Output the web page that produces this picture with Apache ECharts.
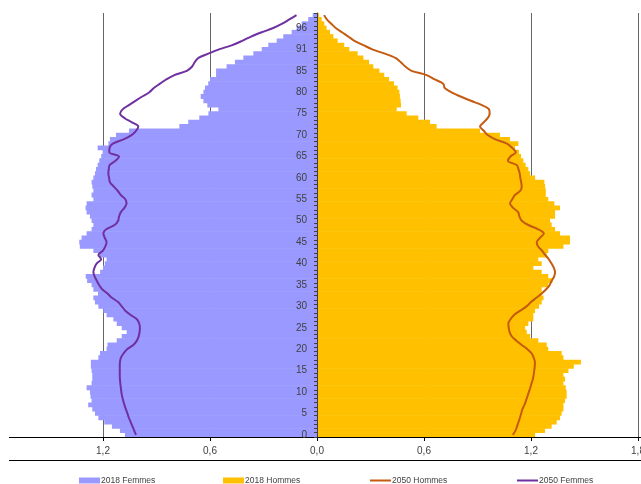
<!DOCTYPE html>
<html>
<head>
<meta charset="utf-8">
<script src="https://cdn.jsdelivr.net/npm/echarts@6/dist/echarts.min.js"></script>
<style>
html,body{margin:0;padding:0;background:#fff;}
#chart{width:641px;height:484px;}
</style>
</head>
<body>
<div id="chart"></div>
<script>
// Age categories (index 90 is labelled 91 in the source)
const ages = ['0','1','2','3','4','5','6','7','8','9','10','11','12','13','14','15','16','17','18','19',
'20','21','22','23','24','25','26','27','28','29','30','31','32','33','34','35','36','37','38','39',
'40','41','42','43','44','45','46','47','48','49','50','51','52','53','54','55','56','57','58','59',
'60','61','62','63','64','65','66','67','68','69','70','71','72','73','74','75','76','77','78','79',
'80','81','82','83','84','85','86','87','88','89','91','92','93','94','95','96','97','98','99'];

const xTicks = [-1.8, -1.2, -0.6, 0, 0.6, 1.2, 1.8];

const femmes2018 = [1.077,1.105,1.15,1.193,1.226,1.245,1.26,1.283,1.264,1.27,
1.273,1.292,1.264,1.26,1.26,1.264,1.268,1.268,1.226,1.217,
1.18,1.175,1.123,1.095,1.067,1.095,1.123,1.142,1.18,1.198,
1.226,1.245,1.254,1.228,1.254,1.264,1.289,1.297,1.216,1.2,
1.19,1.18,1.22,1.254,1.33,1.333,1.32,1.292,1.264,1.254,
1.264,1.273,1.292,1.298,1.292,1.254,1.264,1.254,1.26,1.264,
1.254,1.245,1.239,1.23,1.221,1.21,1.202,1.23,1.17,1.161,
1.127,1.054,0.772,0.722,0.66,0.609,0.553,0.615,0.637,0.652,
0.637,0.628,0.61,0.6,0.566,0.566,0.507,0.46,0.413,0.357,
0.31,0.273,0.226,0.189,0.142,0.114,0.086,0.049,0.024];

const hommes2018 = [1.223,1.279,1.316,1.344,1.363,1.372,1.382,1.382,1.391,1.4,
1.4,1.395,1.382,1.391,1.382,1.41,1.44,1.48,1.382,1.372,
1.297,1.288,1.241,1.195,1.176,1.167,1.185,1.213,1.213,1.223,
1.245,1.26,1.27,1.26,1.26,1.297,1.32,1.297,1.26,1.213,
1.26,1.241,1.288,1.297,1.382,1.419,1.419,1.363,1.335,1.316,
1.307,1.335,1.335,1.363,1.331,1.297,1.283,1.283,1.279,1.275,
1.223,1.195,1.185,1.17,1.157,1.144,1.133,1.11,1.129,1.082,
1.026,0.914,0.671,0.634,0.568,0.503,0.447,0.471,0.469,0.465,
0.462,0.452,0.432,0.404,0.377,0.35,0.316,0.292,0.26,0.228,
0.181,0.153,0.116,0.092,0.073,0.054,0.041,0.026,0.011];

const hommes2050 = [1.098,1.113,1.122,1.13,1.138,1.145,1.152,1.163,1.172,1.18,
1.188,1.196,1.203,1.21,1.215,1.218,1.221,1.222,1.215,1.204,
1.18,1.148,1.118,1.092,1.08,1.075,1.073,1.085,1.105,1.14,
1.175,1.2,1.23,1.26,1.285,1.305,1.316,1.33,1.335,1.328,
1.315,1.3,1.28,1.262,1.24,1.232,1.25,1.272,1.24,1.185,
1.148,1.135,1.128,1.1,1.082,1.095,1.11,1.14,1.148,1.145,
1.14,1.137,1.13,1.12,1.07,1.085,1.115,1.095,1.065,1.0,
0.957,0.935,0.914,0.935,0.958,0.968,0.965,0.925,0.863,0.805,
0.752,0.716,0.708,0.66,0.615,0.53,0.495,0.47,0.44,0.38,
0.31,0.26,0.21,0.176,0.14,0.105,0.08,0.055,0.04];

const femmes2050 = [1.015,1.025,1.035,1.045,1.055,1.063,1.072,1.08,1.087,1.093,
1.097,1.1,1.103,1.105,1.106,1.106,1.106,1.105,1.1,1.085,
1.065,1.03,1.01,1.0,0.995,0.993,0.997,1.01,1.045,1.075,
1.095,1.115,1.15,1.175,1.205,1.222,1.235,1.247,1.254,1.248,
1.236,1.21,1.226,1.2,1.187,1.18,1.19,1.198,1.182,1.135,
1.115,1.11,1.1,1.08,1.068,1.075,1.1,1.118,1.14,1.161,
1.166,1.17,1.168,1.163,1.13,1.11,1.165,1.163,1.145,1.085,
1.04,1.015,1.002,1.04,1.08,1.104,1.09,1.055,1.018,0.98,
0.94,0.915,0.88,0.845,0.8,0.73,0.7,0.686,0.665,0.61,
0.55,0.475,0.42,0.37,0.31,0.245,0.195,0.155,0.115];

const FONT = 'Liberation Sans, Arial, sans-serif';
const neg = a => a.map(v => -v);

const W = 641, H = 484, GL = -4, GR = 3, GT = 13, GB = 47;
const xMin = xTicks[0], xMax = xTicks[xTicks.length - 1];
const zeroOffset = (0 - xMin) / (xMax - xMin) * (W - GL - GR);

const chart = echarts.init(document.getElementById('chart'), null, {renderer: 'canvas'});

function legendAt(left, name, h) {
  return {
    left: left, top: 476, orient: 'horizontal', padding: 0,
    itemWidth: 21, itemHeight: h, itemGap: 0,
    textStyle: {fontSize: 8.5, color: '#404040', fontFamily: FONT, padding: [0, 0, 0, -4]},
    data: [{name: name, icon: 'rect'}]
  };
}

chart.setOption({
  animation: false,
  backgroundColor: '#fff',
  grid: {left: GL, right: GR, top: GT, bottom: GB, containLabel: false, outerBoundsMode: 'none'},
  legend: [
    legendAt(79, '2018 Femmes', 6),
    legendAt(223, '2018 Hommes', 6),
    legendAt(370, '2050 Hommes', 2),
    legendAt(517, '2050 Femmes', 2)
  ],
  xAxis: {
    type: 'value', min: xMin, max: xMax, interval: 0.6,
    axisLine: {show: false},
    axisTick: {show: true, length: 4, lineStyle: {color: '#000'}},
    splitLine: {show: true, lineStyle: {color: '#666', width: 1}},
    axisLabel: {
      color: '#404040', fontSize: 10, fontFamily: FONT, margin: 9,
      showMinLabel: false, showMaxLabel: true, hideOverlap: false,
      formatter: v => Math.abs(v).toFixed(1).replace('.', ',')
    }
  },
  yAxis: {
    type: 'category', data: ages, z: 5, position: 'left', offset: -zeroOffset,
    axisLine: {show: true, onZero: false, lineStyle: {color: '#404040', width: 1}},
    axisTick: {show: true, interval: 0, length: 3, inside: false, lineStyle: {color: '#404040'}},
    axisLabel: {interval: 4, color: '#404040', fontSize: 10, fontFamily: FONT, margin: 10},
    splitLine: {show: false}
  },
  series: [
    {name: '2018 Femmes', type: 'bar', data: neg(femmes2018), barWidth: 4.8, barGap: '-100%',
     itemStyle: {color: '#9999FF'}, z: 2},
    {name: '2018 Hommes', type: 'bar', data: hommes2018, barWidth: 4.8, barGap: '-100%',
     itemStyle: {color: '#FFC000'}, z: 2},
    {name: '2050 Hommes', type: 'line', data: hommes2050, smooth: 0.3, symbol: 'none',
     lineStyle: {color: '#C55A11', width: 2}, itemStyle: {color: '#C55A11'}, z: 6},
    {name: '2050 Femmes', type: 'line', data: neg(femmes2050), smooth: 0.3, symbol: 'none',
     lineStyle: {color: '#7030A0', width: 2}, itemStyle: {color: '#7030A0'}, z: 6}
  ],
  graphic: [
    {type: 'line', silent: true, z: 4, shape: {x1: 9, y1: H - GB + 0.5, x2: W, y2: H - GB + 0.5},
     style: {stroke: '#000', lineWidth: 1}},
    {type: 'line', silent: true, shape: {x1: 9, y1: 460.5, x2: W, y2: 460.5},
     style: {stroke: '#000', lineWidth: 1}}
  ]
});
</script>
</body>
</html>
